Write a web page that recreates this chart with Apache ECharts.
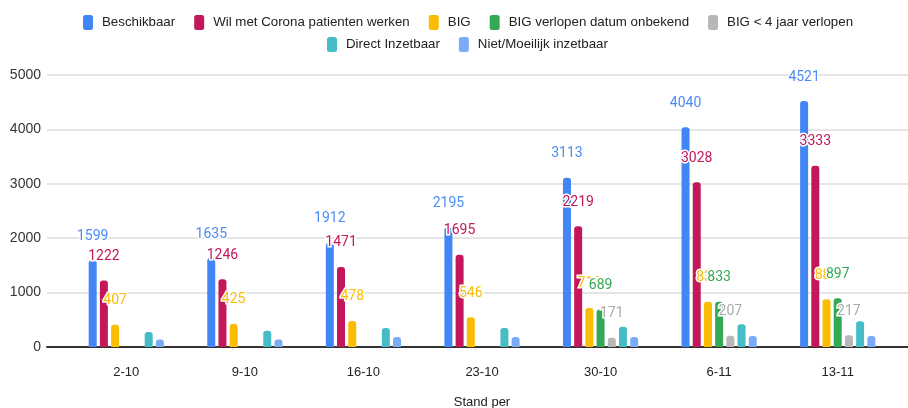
<!DOCTYPE html>
<html>
<head>
<meta charset="utf-8">
<script src="https://cdn.jsdelivr.net/npm/echarts@6/dist/echarts.min.js"></script>
<style>
  html, body { margin: 0; background: #fff; }
  #chart { width: 908px; height: 408px; }
</style>
</head>
<body>
<div id="chart"></div>
<script>
// data (cyan / light blue have no labels)
const categories = ['2-10', '9-10', '16-10', '23-10', '30-10', '6-11', '13-11'];
const beschikbaar = [1599, 1635, 1912, 2195, 3113, 4040, 4521];
const wilMetCorona = [1222, 1246, 1471, 1695, 2219, 3028, 3333];
const big = [407, 425, 478, 546, 718, 830, 880];
const bigOnbekend = [null, null, null, null, 689, 833, 897];
const bigVierJaar = [null, null, null, null, 171, 207, 217];
const directInzetbaar = [275, 300, 350, 350, 370, 420, 475];
const nietInzetbaar = [140, 140, 185, 185, 185, 200, 200];

const names = ['Beschikbaar', 'Wil met Corona patienten werken', 'BIG', 'BIG verlopen datum onbekend',
  'BIG < 4 jaar verlopen', 'Direct Inzetbaar', 'Niet/Moeilijk inzetbaar'];
const colors = ['#4285f4', '#c2185b', '#fbbc04', '#34a853', '#b7b7b7', '#46bdc6', '#7baaf7'];
const labelColors = ['#4a8cf5', '#c2185b', '#fbbc04', '#34a853', '#aaaaaa', null, null];
const values = [beschikbaar, wilMetCorona, big, bigOnbekend, bigVierJaar, directInzetbaar, nietInzetbaar];

const font = 'Arial, "Liberation Sans", sans-serif';

let series = values.map((d, i) => ({
  name: names[i],
  type: 'bar',
  xAxisIndex: 1,
  yAxisIndex: 1,
  data: d,
  barWidth: 8,
  barGap: '40%',
  itemStyle: { color: colors[i], borderRadius: [3, 3, 0, 0] },
  label: {
    show: labelColors[i] != null,
    position: 'top',
    distance: 17,
    color: labelColors[i],
    fontFamily: 'Roboto, sans-serif',
    fontSize: 14,
    textBorderColor: '#fff',
    textBorderWidth: 3
  }
}));

let chart = echarts.init(document.getElementById('chart'));
chart.setOption({
  animation: false,
  color: colors,
  legend: [
    {
      data: names.slice(0, 5),
      left: 78, top: 10,
      icon: 'roundRect', itemWidth: 10, itemHeight: 15, itemGap: 19,
      textStyle: { fontFamily: font, fontSize: 13.3, color: '#222', padding: [0, 0, 0, 4] }
    },
    {
      data: names.slice(5),
      left: 322, top: 32,
      icon: 'roundRect', itemWidth: 10, itemHeight: 15, itemGap: 19,
      textStyle: { fontFamily: font, fontSize: 13.3, color: '#222', padding: [0, 0, 0, 4] }
    }
  ],
  grid: [
    { left: 47, right: 0, top: 75, bottom: 61, outerBoundsMode: 'none' },
    { left: 67, right: 11, top: 75, bottom: 61, outerBoundsMode: 'none' }
  ],
  xAxis: [
    {
      type: 'category', gridIndex: 0, data: [''],
      axisLine: { lineStyle: { color: '#333', width: 2 } },
      axisTick: { show: false }, axisLabel: { show: false }
    },
    {
      type: 'category', gridIndex: 1, data: categories,
      axisLine: { show: false }, axisTick: { show: false },
      axisLabel: { fontFamily: font, fontSize: 13, color: '#222', margin: 19 },
      name: 'Stand per', nameLocation: 'middle', nameGap: 49,
      nameTextStyle: { fontFamily: font, fontSize: 13, color: '#222' }
    }
  ],
  yAxis: [
    {
      type: 'value', gridIndex: 0, min: 0, max: 5000, interval: 1000,
      axisLabel: { fontFamily: font, fontSize: 14, color: '#333', margin: 6, formatter: v => String(v) },
      splitLine: { lineStyle: { color: '#dcdcdc', width: 1.5 } }
    },
    {
      type: 'value', gridIndex: 1, min: 0, max: 5000, interval: 1000,
      axisLabel: { show: false }, splitLine: { show: false }
    }
  ],
  series: series
});
</script>
</body>
</html>
